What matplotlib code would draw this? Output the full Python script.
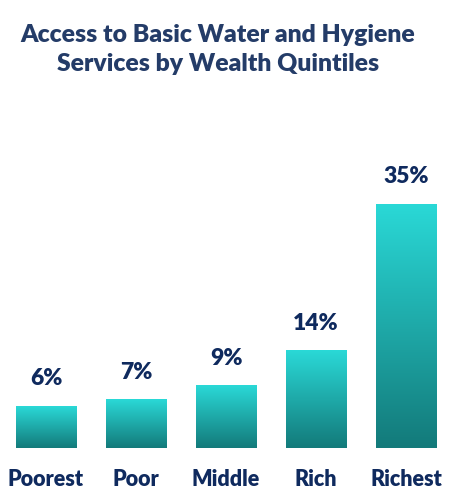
import numpy as np
import matplotlib
matplotlib.use("Agg")
import matplotlib.pyplot as plt
from matplotlib.colors import LinearSegmentedColormap
from matplotlib.patches import Rectangle

# data
categories = ["Poorest", "Poor", "Middle", "Rich", "Richest"]
values = [6, 7, 9, 14, 35]
value_labels = ["6%", "7%", "9%", "14%", "35%"]

navy = "#0f2a5e"
title_color = "#243c68"
grad = LinearSegmentedColormap.from_list("teal", ["#137a7a", "#2ad9d7"])

plt.rcParams['font.family'] = ['Lato', 'DejaVu Sans']

fig = plt.figure(figsize=(4.62, 4.96), dpi=100)
ax = fig.add_axes([0, 48 / 496, 1, 279 / 496])
ax.set_xlim(-0.511, 4.622)
ax.set_ylim(0, 40)
ax.axis("off")

x = np.arange(len(categories))
width = 0.667
bars = ax.bar(x, values, width=width, color="none")

# vertical gradient inside each bar
g = np.linspace(0, 1, 256).reshape(-1, 1)
for b in bars:
    x0, y0 = b.get_x(), b.get_y()
    w, h = b.get_width(), b.get_height()
    im = ax.imshow(g, cmap=grad, origin="lower", aspect="auto",
                   extent=[x0, x0 + w, y0, y0 + h], zorder=2)
    clip = Rectangle((x0, y0), w, h, transform=ax.transData, fc="none", ec="none")
    ax.add_patch(clip)
    im.set_clip_path(clip)

for xi, v, lab in zip(x, values, value_labels):
    ax.annotate(lab, (xi, v), xytext=(0, 12), textcoords="offset points",
                ha="center", va="bottom", fontsize=16.5, fontweight="heavy", color=navy)

for xi, c in zip(x, categories):
    ax.annotate(c, (xi, 0), xytext=(0, -15), textcoords="offset points",
                ha="center", va="top", fontsize=15.5, fontweight="heavy", color=navy)

fig.text(0.472, 0.9, "Access to Basic Water and Hygiene\nServices by Wealth Quintiles",
         ha="center", va="center", fontsize=17.8, fontweight="heavy",
         color=title_color, linespacing=1.38)

fig.savefig("out.png", dpi=100)
